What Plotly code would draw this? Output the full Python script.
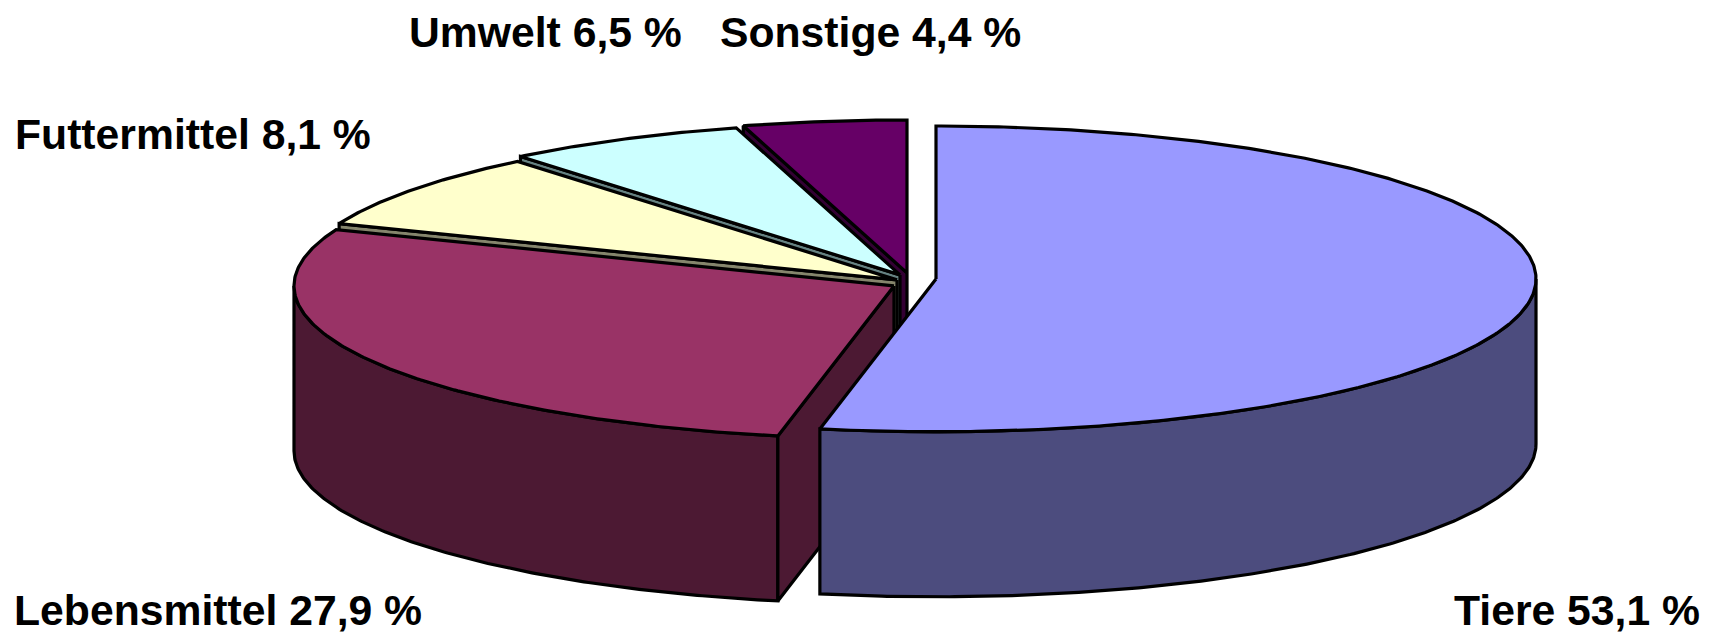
import numpy as np
import plotly.graph_objects as go

# ---- data ----
categories = ["Tiere", "Lebensmittel", "Futtermittel", "Umwelt", "Sonstige"]
values = [53.1, 27.9, 8.1, 6.5, 4.4]
top_colors = ["#9999FF", "#993366", "#FFFFCC", "#CCFFFF", "#660066"]
side_colors = ["#4C4C7E", "#4C1933", "#85856C", "#668282", "#330033"]

# ---- geometry / style (layout constants, in screen pixels) ----
CX, CY = 894.0, 285.9      # centre of the unexploded pie top face
RX, RY = 600.0, 152.9      # radii of the top ellipse
DEPTH = 165.0              # thickness of the pie
slice_offsets = [(42, -7), (0, 0), (3, -6), (6, -11), (13, -13)]
draw_order = [4, 3, 2, 1, 0]
LINE_W = 3.2
FONT_SIZE = 42.7
label_pos = [(1577, 610), (218, 610), (193, 134), (545, 32), (870, 32)]

# page body has an 8px margin; figure placed so that axis units == window pixels
BODY_MARGIN = 8
WIN_W, WIN_H = 1711, 637

total = sum(values)
bounds = np.concatenate([[0.0], np.cumsum(values)]) / total * 360.0


def point(cx, cy, a):
    r = np.radians(a)
    return cx + RX * np.sin(r), cy - RY * np.cos(r)


def arc(cx, cy, a0, a1):
    n = max(int(abs(a1 - a0) * 2) + 2, 3)
    t = np.linspace(a0, a1, n)
    x, y = point(cx, cy, t)
    return list(x), list(y)


fig = go.Figure()


def poly(xs, ys, fill):
    xs = list(xs) + [xs[0]]
    ys = list(ys) + [ys[0]]
    fig.add_trace(go.Scatter(x=xs, y=ys, mode="lines", fill="toself",
                             fillcolor=fill,
                             line=dict(color="black", width=LINE_W),
                             hoverinfo="skip", showlegend=False))


def wall_visible(normal_angle):
    return np.cos(np.radians(normal_angle - 180.0)) > 1e-6


for i in draw_order:
    a0, a1 = bounds[i], bounds[i + 1]
    dx, dy = slice_offsets[i]
    cx, cy = CX + dx, CY + dy

    # outer curved side (front half only)
    v0, v1 = max(a0, 90.0), min(a1, 270.0)
    if v1 > v0:
        tx, ty = arc(cx, cy, v0, v1)
        bx, by = arc(cx, cy, v1, v0)
        by = [y + DEPTH for y in by]
        poly(tx + bx, ty + by, side_colors[i])

    # radial walls
    for ang, normal in ((a0, a0 - 90.0), (a1, a1 + 90.0)):
        if wall_visible(normal):
            ex, ey = point(cx, cy, ang)
            poly([cx, ex, ex, cx], [cy, ey, ey + DEPTH, cy + DEPTH], side_colors[i])

    # top face
    tx, ty = arc(cx, cy, a0, a1)
    poly([cx] + tx, [cy] + ty, top_colors[i])

# labels
for i, (c, v) in enumerate(zip(categories, values)):
    txt = f"{c} {str(v).replace('.', ',')} %"
    x, y = label_pos[i]
    fig.add_annotation(x=x, y=y, xref="x", yref="y", text=txt, showarrow=False,
                       xanchor="center", yanchor="middle",
                       font=dict(family="Liberation Sans, Arial, sans-serif",
                                 size=FONT_SIZE, color="black", weight="bold"))

fig.update_layout(
    width=WIN_W - BODY_MARGIN, height=WIN_H - BODY_MARGIN,
    margin=dict(l=0, r=0, t=0, b=0),
    paper_bgcolor="white", plot_bgcolor="white",
    xaxis=dict(range=[BODY_MARGIN, WIN_W], visible=False, fixedrange=True),
    yaxis=dict(range=[WIN_H, BODY_MARGIN], visible=False, fixedrange=True),
    showlegend=False,
)

fig.write_html("out.html")
